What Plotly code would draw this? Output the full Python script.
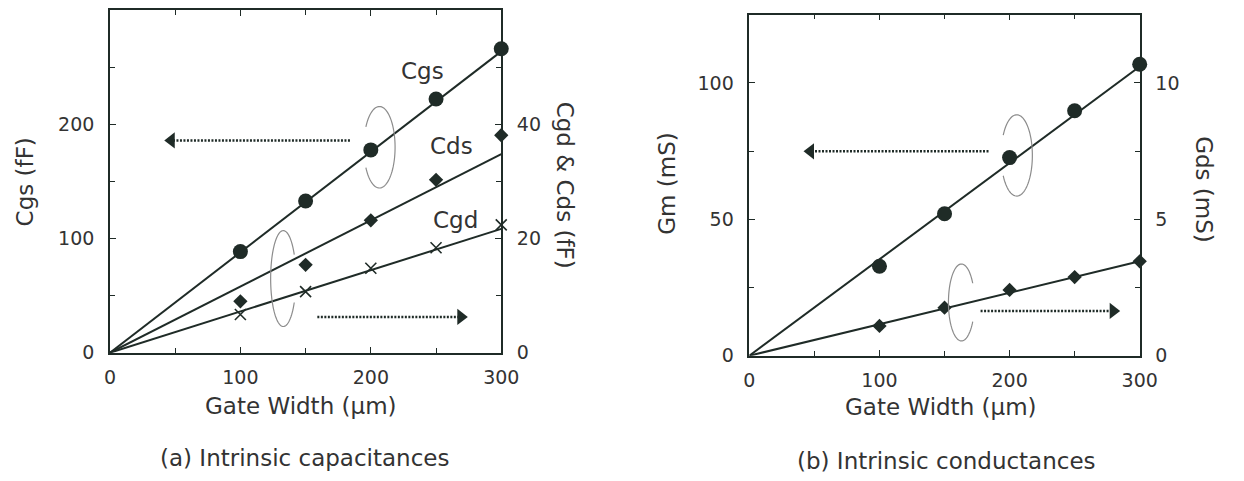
import numpy as np
import plotly.graph_objects as go

# ---------------- data ----------------
gate_width = [100, 150, 200, 250, 300]
fit_x = [0, 300]

# (a) intrinsic capacitances
cgs = [88.6, 132.9, 177.7, 222.3, 266.3]      # fF, left axis
cds = [9.0, 15.4, 23.2, 30.3, 38.1]           # fF, right axis
cgd = [6.7, 10.7, 14.8, 18.4, 22.4]           # fF, right axis
cgs_fit = [0, 264]
cds_fit = [0, 34.8]
cgd_fit = [0, 21.7]

# (b) intrinsic conductances
gm = [32.8, 52.0, 72.6, 89.8, 106.8]          # mS, left axis
gds = [1.09, 1.76, 2.41, 2.88, 3.46]          # mS, right axis
gm_fit = [0, 106]
gds_fit = [0, 3.46]

x_ticks = [0, 100, 200, 300]
x_minor = [50, 150, 250]
cgs_ticks = [0, 100, 200]
cgs_minor = [50, 150, 250]
cc_ticks = [0, 20, 40]
cc_minor = [10, 30, 50]
gm_ticks = [0, 50, 100]
gm_minor = [25, 75]
gds_ticks = [0, 5, 10]
gds_minor = [2.5, 7.5]

# series labels (x, y in left-axis units)
series_labels = ["Cgs", "Cds", "Cgd"]
label_x = [240, 262, 265]
label_y = [247, 181, 116]

# arrows: [y, start x, tip x] in left-axis units
arrows_a = [[186, 184, 47], [31.4, 159, 269]]
arrows_b = [[74.9, 183.8, 47], [16.4, 177.7, 279.6]]

# loops: cx, cy, rx, ry, gap side ('left'/'right')
loops_a = [[206.6, 180, 12, 35.7, "left"], [132.9, 65, 9.7, 42, "right"]]
loops_b = [[205.5, 73.4, 12, 14.9, "left"], [163, 19.5, 10, 14.1, "right"]]

# ---------------- style ----------------
W, H = 1244, 481
INK = "#1f2b27"
TXT = "#333333"
FONT = "DejaVu Sans"


def px2x(p):
    return p / W


def px2y(p):
    return 1 - p / H


fig = go.Figure()

line_style = dict(color=INK, width=2)


def add_series(x, y, fx, fy, xa, ya, symbol, size, name):
    fig.add_trace(go.Scatter(x=fx, y=fy, mode="lines", line=line_style,
                             xaxis=xa, yaxis=ya, showlegend=False, hoverinfo="skip"))
    if symbol == "x-thin":
        mk = dict(symbol=symbol, size=size, line=dict(color=INK, width=1.6), color=INK)
    else:
        mk = dict(symbol=symbol, size=size, color=INK, line=dict(width=0))
    fig.add_trace(go.Scatter(x=x, y=y, mode="markers", marker=mk, name=name,
                             xaxis=xa, yaxis=ya, showlegend=False, cliponaxis=False))


add_series(gate_width, cgs, fit_x, cgs_fit, "x", "y", "circle", 15, "Cgs")
add_series(gate_width, cds, fit_x, cds_fit, "x", "y2", "diamond", 11, "Cds")
add_series(gate_width, cgd, fit_x, cgd_fit, "x", "y2", "x-thin", 11, "Cgd")
add_series(gate_width, gm, fit_x, gm_fit, "x2", "y3", "circle", 15, "Gm")
add_series(gate_width, gds, fit_x, gds_fit, "x2", "y4", "diamond", 11, "Gds")

shapes = []


def add_arrow(arr, xa, ya):
    yv, xs, xt = arr
    shapes.append(dict(type="line", xref=xa, yref=ya, x0=xs, x1=xt, y0=yv, y1=yv,
                       line=dict(color=INK, width=2.5, dash="2px,1.5px")))
    sym = "triangle-left" if xt < xs else "triangle-right"
    fig.add_trace(go.Scatter(x=[xt], y=[yv], mode="markers", xaxis=xa, yaxis=ya,
                             marker=dict(symbol=sym, size=14, color=INK),
                             showlegend=False, hoverinfo="skip", cliponaxis=False))


def add_loop(lp, xa, ya):
    cx, cy, rx, ry, gap = lp
    if gap == "left":
        th = np.linspace(np.radians(150), np.radians(-150), 80)
    else:
        th = np.linspace(np.radians(30), np.radians(330), 80)
    xs = cx + rx * np.cos(th)
    ys = cy + ry * np.sin(th)
    path = "M " + " L ".join(f"{a:.3f},{b:.3f}" for a, b in zip(xs, ys))
    shapes.append(dict(type="path", xref=xa, yref=ya, path=path,
                       line=dict(color="#8c8c8c", width=1.2)))


for a in arrows_a:
    add_arrow(a, "x", "y")
for a in arrows_b:
    add_arrow(a, "x2", "y3")
for lp in loops_a:
    add_loop(lp, "x", "y")
for lp in loops_b:
    add_loop(lp, "x2", "y3")

tickfont = dict(family=FONT, size=19, color=TXT)


def axis_common(tickvals, minorvals, standoff=10):
    return dict(tickmode="array", tickvals=tickvals, ticks="inside", ticklen=6,
                tickwidth=1.3, tickcolor=INK, showline=True, linecolor=INK,
                linewidth=1.6, showgrid=False, zeroline=False, tickfont=tickfont,
                ticklabelstandoff=standoff,
                minor=dict(tickmode="array", tickvals=minorvals, ticks="inside",
                           ticklen=5, tickwidth=1.2, tickcolor=INK, showgrid=False))


xa_dom = [px2x(106), px2x(505)]
ya_dom = [px2y(361), px2y(10.5)]
xb_dom = [px2x(758), px2x(1156)]
yb_dom = [px2y(364), px2y(15)]

layout = dict(
    width=W, height=H, margin=dict(l=0, r=0, t=0, b=0),
    paper_bgcolor="white", plot_bgcolor="white",
    showlegend=False, font=dict(family=FONT, color=TXT),
    xaxis=dict(domain=xa_dom, range=[0, 300], anchor="y", mirror="ticks",
               **axis_common(x_ticks, x_minor, 7)),
    yaxis=dict(domain=ya_dom, range=[0, 300], anchor="x", side="left",
               **axis_common(cgs_ticks, cgs_minor)),
    yaxis2=dict(range=[0, 60], anchor="x", overlaying="y", side="right",
                **axis_common(cc_ticks, cc_minor)),
    xaxis2=dict(domain=xb_dom, range=[0, 300], anchor="y3", mirror="ticks",
                **axis_common(x_ticks, x_minor, 7)),
    yaxis3=dict(domain=yb_dom, range=[0, 125], anchor="x2", side="left",
                **axis_common(gm_ticks, gm_minor)),
    yaxis4=dict(range=[0, 12.5], anchor="x2", overlaying="y3", side="right",
                **axis_common(gds_ticks, gds_minor)),
    shapes=shapes,
)
fig.update_layout(**layout)

ann = []
tfont = dict(family=FONT, size=23, color=TXT)
for t, x, y in zip(series_labels, label_x, label_y):
    ann.append(dict(text=t, x=x, y=y, xref="x", yref="y", showarrow=False,
                    font=tfont, xanchor="center", yanchor="middle"))

titles = [
    ("Cgs (fF)", 19, 186, -90),
    ("Cgd &amp; Cds (fF)", 570, 189, 90),
    ("Gate Width (µm)", 301, 415, 0),
    ("(a) Intrinsic capacitances", 304, 469, 0),
    ("Gm (mS)", 674, 187, -90),
    ("Gds (mS)", 1222, 194, 90),
    ("Gate Width (µm)", 953, 417, 0),
    ("(b) Intrinsic conductances", 959, 472, 0),
]
for t, x, y, ang in titles:
    ann.append(dict(text=t, x=px2x(x), y=px2y(y), xref="paper", yref="paper",
                    showarrow=False, textangle=ang, font=tfont,
                    xanchor="center", yanchor="middle"))
fig.update_layout(annotations=ann)

fig.write_html("out.html")
